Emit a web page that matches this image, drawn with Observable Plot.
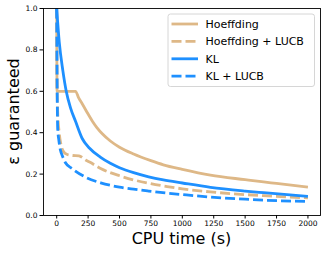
<!DOCTYPE html>
<html>
<head>
<meta charset="utf-8">
<script src="https://cdn.jsdelivr.net/npm/d3@7"></script>
<script src="https://cdn.jsdelivr.net/npm/@observablehq/plot@0.6"></script>
<style>
  html, body { margin: 0; padding: 0; background: white; }
</style>
</head>
<body>
<div id="chart"></div>
<script>
// ---- data ----
const seriesNames = ["Hoeffding", "Hoeffding + LUCB", "KL", "KL + LUCB"];
const seriesColors = ["#DEB887", "#DEB887", "#1E90FF", "#1E90FF"];
const seriesDashed = [false, true, false, true];

const hoeffT = [0, 3, 150, 175, 203, 250, 283, 320, 363, 427, 500, 612, 750, 849, 1000, 1224, 1500, 1647, 1750, 2000];
const hoeffV = [1.0, 0.6, 0.6, 0.568, 0.54, 0.49, 0.457, 0.425, 0.395, 0.36, 0.33, 0.297, 0.265, 0.245, 0.223, 0.195, 0.173, 0.162, 0.155, 0.137];

const hoeffLucbT = [0, 2, 8, 20, 35, 57, 84, 124, 177, 230, 262, 350, 500, 612, 732, 879, 1000, 1224, 1500, 1647, 2000];
const hoeffLucbV = [1.0, 0.64, 0.5, 0.4, 0.34, 0.306, 0.295, 0.29, 0.288, 0.268, 0.258, 0.227, 0.192, 0.172, 0.156, 0.14, 0.129, 0.114, 0.101, 0.096, 0.085];

const klT = [0, 20, 49, 76, 110, 150, 203, 262, 347, 427, 500, 612, 732, 849, 1000, 1224, 1500, 1647, 2000];
const klV = [1.0, 0.84, 0.70, 0.6, 0.52, 0.455, 0.372, 0.325, 0.282, 0.252, 0.231, 0.207, 0.187, 0.172, 0.157, 0.136, 0.118, 0.11, 0.092];

const klLucbT = [0, 4, 8, 18, 30, 44, 70, 124, 230, 350, 500, 612, 732, 879, 1000, 1224, 1500, 1647, 2000];
const klLucbV = [1.0, 0.6, 0.42, 0.36, 0.315, 0.29, 0.255, 0.226, 0.185, 0.158, 0.137, 0.127, 0.118, 0.108, 0.101, 0.089, 0.079, 0.074, 0.068];

const xTicks = [0, 250, 500, 750, 1000, 1250, 1500, 1750, 2000];
const yTicks = [0.0, 0.2, 0.4, 0.6, 0.8, 1.0];
const xLabel = "CPU time (s)";
const yLabel = "ε guaranteed";

// ---- build table ----
const allT = [hoeffT, hoeffLucbT, klT, klLucbT];
const allV = [hoeffV, hoeffLucbV, klV, klLucbV];
const series = seriesNames.map((name, i) => allT[i].map((t, j) => ({t, v: allV[i][j], name})));

const W = 326, H = 253;
const mL = 43, mR = 6, mT = 8, mB = 38;
const font = "DejaVu Sans";

const lineMarks = series.map((data, i) => Plot.line(data, {
  x: "t", y: "v",
  stroke: seriesColors[i],
  strokeWidth: 2.8,
  strokeDasharray: seriesDashed[i] ? "10,4" : null,
  strokeLinecap: "butt",
  strokeLinejoin: "round",
  curve: "monotone-x",
  clip: true
}));

const chart = Plot.plot({
  width: W, height: H,
  marginLeft: mL, marginRight: mR, marginTop: mT, marginBottom: mB,
  style: {fontFamily: font, fontSize: "7.5px", color: "#000", background: "white", overflow: "visible"},
  x: {domain: [-105, 2100], label: null},
  y: {domain: [0, 1], label: null},
  marks: [
    ...lineMarks,
    Plot.frame({stroke: "#000", strokeWidth: 0.9}),
    Plot.axisX({ticks: xTicks, tickFormat: d => String(d), tickSize: 3.5, tickPadding: 2, label: null, stroke: "#000"}),
    Plot.axisY({ticks: yTicks, tickFormat: d3.format(".1f"), tickSize: 3.5, tickPadding: 2.5, label: null, stroke: "#000"})
  ]
});

document.getElementById("chart").appendChild(chart);

const svg = d3.select(chart);
const plotCx = (mL + (W - mR)) / 2;
const plotCy = (mT + (H - mB)) / 2;

// axis titles
svg.append("text")
  .attr("x", plotCx).attr("y", 244)
  .attr("text-anchor", "middle")
  .attr("font-family", font).attr("font-size", "16px").attr("fill", "#000")
  .text(xLabel);
svg.append("text")
  .attr("transform", `translate(19,${plotCy}) rotate(-90)`)
  .attr("text-anchor", "middle")
  .attr("font-family", font).attr("font-size", "16px").attr("fill", "#000")
  .text(yLabel);

// legend
const lg = svg.append("g");
lg.append("rect")
  .attr("x", 168).attr("y", 14).attr("width", 146.5).attr("height", 72.5)
  .attr("rx", 2.5).attr("fill", "white").attr("fill-opacity", 0.8)
  .attr("stroke", "#cccccc").attr("stroke-width", 0.8);
const rowY = [24, 41.3, 58.8, 76.2];
seriesNames.forEach((name, i) => {
  lg.append("line")
    .attr("x1", 171.5).attr("x2", 198).attr("y1", rowY[i]).attr("y2", rowY[i])
    .attr("stroke", seriesColors[i]).attr("stroke-width", 2.8)
    .attr("stroke-dasharray", seriesDashed[i] ? "10,4" : null);
  lg.append("text")
    .attr("x", 205.5).attr("y", rowY[i]).attr("dy", "0.36em")
    .attr("text-anchor", "start")
    .attr("font-family", font).attr("font-size", "11px").attr("fill", "#000")
    .text(name);
});
</script>
</body>
</html>
